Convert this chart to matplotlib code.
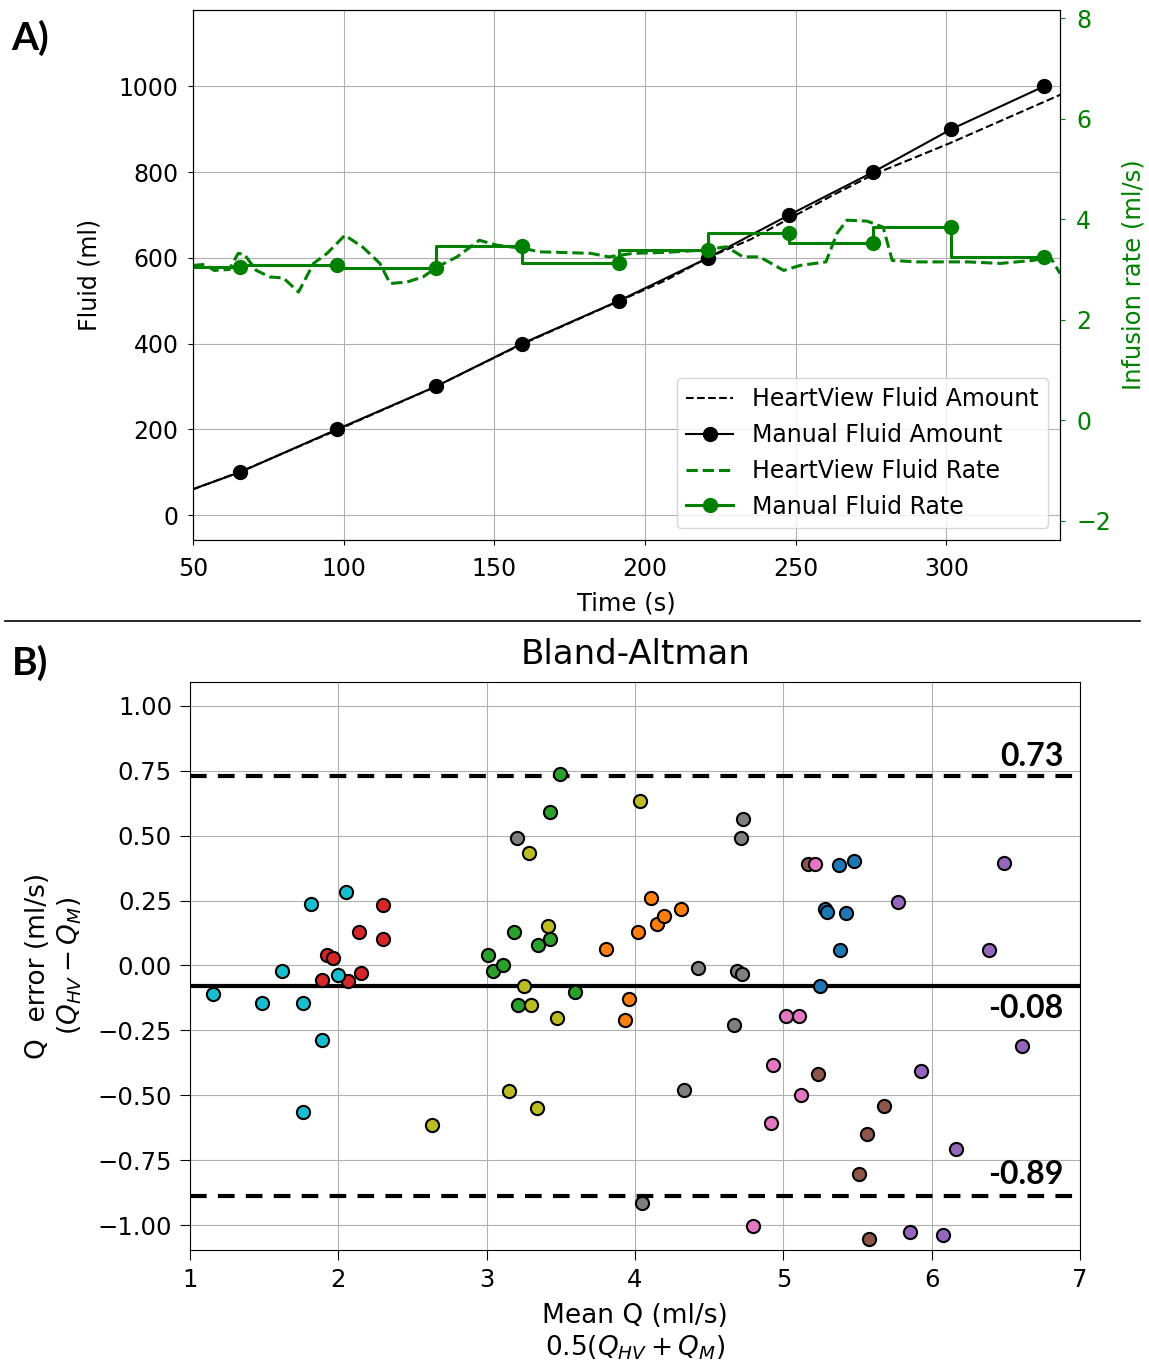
import numpy as np
import matplotlib
matplotlib.use('Agg')
import matplotlib.pyplot as plt
from matplotlib.lines import Line2D
from matplotlib.transforms import blended_transform_factory

# ---------------- panel A data ----------------
man_t = [26, 65.6, 97.8, 130.6, 159.2, 191.4, 220.9, 247.8, 275.7, 301.6, 332.4]
man_fluid = [0, 100, 200, 300, 400, 500, 600, 700, 800, 900, 1000]
man_rate = [3.05, 3.05, 3.08, 3.03, 3.46, 3.12, 3.38, 3.72, 3.52, 3.84, 3.24]

hv_amt_t = [50, 65.6, 97.7, 130, 159, 191, 207, 221, 235, 248, 262, 276, 301, 338]
hv_amt = [60, 101, 198, 298, 398, 498, 548, 601, 643, 692, 745, 795, 867, 981]

hv_rate_t = [50, 54, 57, 62, 65, 67, 71, 75.6, 80, 85, 90, 94.5, 100.4, 106.4, 112,
             115.4, 121, 126.3, 131, 137.6, 145, 151, 159.5, 165, 171, 182, 188, 196,
             207, 218, 227, 232.5, 238, 246, 251.5, 260, 263.7, 267, 273.7, 279, 282,
             290, 307, 318, 328.8, 334.4, 337.7]
hv_rate = [3.08, 3.1, 2.98, 3.0, 3.32, 3.3, 2.98, 2.85, 2.83, 2.55, 3.12, 3.32, 3.68, 3.44, 3.12,
           2.72, 2.75, 2.85, 3.05, 3.25, 3.58, 3.48, 3.42, 3.35, 3.34, 3.32, 3.25, 3.32,
           3.34, 3.38, 3.45, 3.25, 3.25, 2.98, 3.08, 3.15, 3.72, 3.98, 3.96, 3.84, 3.18,
           3.15, 3.15, 3.12, 3.18, 3.25, 2.92]

# ---------------- panel B data ----------------
groups = ['tab:blue', 'tab:orange', 'tab:green', 'tab:red', 'tab:purple',
          'tab:brown', 'tab:pink', 'tab:gray', 'tab:olive', 'tab:cyan']
ba_x = {
    'tab:blue': [5.244, 5.282, 5.297, 5.372, 5.383, 5.424, 5.473],
    'tab:orange': [3.805, 3.933, 3.960, 4.023, 4.109, 4.147, 4.198, 4.311],
    'tab:green': [3.012, 3.045, 3.113, 3.185, 3.214, 3.349, 3.428, 3.428, 3.491, 3.592],
    'tab:red': [1.888, 1.921, 1.962, 2.068, 2.140, 2.153, 2.304, 2.304],
    'tab:purple': [5.776, 5.851, 5.929, 6.075, 6.165, 6.383, 6.484, 6.608],
    'tab:brown': [5.169, 5.232, 5.511, 5.563, 5.574, 5.675],
    'tab:pink': [4.792, 4.918, 4.929, 5.017, 5.107, 5.118, 5.214],
    'tab:gray': [3.203, 4.046, 4.327, 4.423, 4.664, 4.685, 4.716, 4.719, 4.727],
    'tab:olive': [2.634, 3.151, 3.248, 3.288, 3.299, 3.340, 3.412, 3.477, 4.034],
    'tab:cyan': [1.153, 1.483, 1.623, 1.760, 1.760, 1.814, 1.888, 2.0, 2.052],
}
ba_y = {
    'tab:blue': [-0.080, 0.216, 0.205, 0.385, 0.058, 0.203, 0.402],
    'tab:orange': [0.064, -0.211, -0.128, 0.130, 0.261, 0.158, 0.190, 0.216],
    'tab:green': [0.042, -0.023, 0.0, 0.128, -0.152, 0.077, 0.100, 0.591, 0.736, -0.103],
    'tab:red': [-0.058, 0.042, 0.030, -0.060, 0.128, -0.028, 0.231, 0.101],
    'tab:purple': [0.245, -1.026, -0.405, -1.040, -0.709, 0.058, 0.396, -0.311],
    'tab:brown': [0.389, -0.420, -0.802, -0.651, -1.053, -0.542],
    'tab:pink': [-1.005, -0.606, -0.384, -0.195, -0.195, -0.500, 0.389],
    'tab:gray': [0.492, -0.917, -0.478, -0.009, -0.231, -0.022, 0.489, -0.032, 0.563],
    'tab:olive': [-0.615, -0.484, -0.080, 0.432, -0.152, -0.548, 0.151, -0.204, 0.633],
    'tab:cyan': [-0.109, -0.144, -0.022, -0.144, -0.564, 0.238, -0.289, -0.035, 0.281],
}
mean_diff = -0.08
upper_loa = 0.73
lower_loa = -0.89

fig = plt.figure(figsize=(11.49, 13.68), dpi=100)

# ---------------- A) ----------------
ax1 = fig.add_axes([0.168, 0.6053, 0.7546, 0.3874])
ax2 = ax1.twinx()

l1, = ax1.plot(hv_amt_t, hv_amt, 'k--', lw=1.5, label='HeartView Fluid Amount')
l2, = ax1.plot(man_t, man_fluid, 'k-o', lw=1.5, ms=10, label='Manual Fluid Amount')
ax1.set_xlim(50, 337.7)
ax1.set_ylim(-58, 1178)
ax1.set_xticks([50, 100, 150, 200, 250, 300])
ax1.set_yticks([0, 200, 400, 600, 800, 1000])
ax1.grid(True)
ax1.tick_params(labelsize=17)
ax1.tick_params(axis='x', pad=9)
ax1.tick_params(axis='y', pad=7)
ax1.set_xlabel('Time (s)', fontsize=17.5, labelpad=7)
ax1.set_ylabel('Fluid (ml)', fontsize=17, labelpad=12)

l3, = ax2.plot(hv_rate_t, hv_rate, 'g--', lw=2.2, label='HeartView Fluid Rate')
l4, = ax2.plot(man_t, man_rate, 'g-o', lw=2.2, ms=10, drawstyle='steps-pre',
               label='Manual Fluid Rate')
ax2.set_ylim(-2.38, 8.16)
ax2.set_yticks([-2, 0, 2, 4, 6, 8])
ax2.tick_params(axis='y', colors='g', labelsize=17, pad=8)
ax2.set_ylabel('Infusion rate (ml/s)', color='g', fontsize=17.5, labelpad=8)
ax2.legend(handles=[l1, l2, l3, l4], loc='lower right', fontsize=17)

# ---------------- B) ----------------
ax3 = fig.add_axes([0.1654, 0.0863, 0.7746, 0.4152])
for g in groups:
    ax3.scatter(ba_x[g], ba_y[g], s=90, c=g, edgecolors='k', linewidths=1.5, zorder=3)
ax3.axhline(mean_diff, color='k', lw=3, zorder=2)
ax3.axhline(upper_loa, color='k', lw=3, ls=(0, (4, 2.7)), zorder=2)
ax3.axhline(lower_loa, color='k', lw=3, ls=(0, (4, 2.7)), zorder=2)
ax3.set_xlim(1, 7)
ax3.set_ylim(-1.096, 1.092)
ax3.set_yticks(np.arange(-1, 1.01, 0.25))
ax3.grid(True)
ax3.tick_params(labelsize=17.5, length=7, pad=6)
ax3.set_title('Bland-Altman', fontsize=24.5, pad=13)
ax3.set_xlabel('Mean Q (ml/s)\n$0.5(Q_{HV} + Q_M)$', fontsize=19, labelpad=8)
ax3.set_ylabel('Q  error (ml/s)\n$(Q_{HV} - Q_M)$', fontsize=19, labelpad=10)

tr = blended_transform_factory(ax3.transAxes, ax3.transData)
ax3.text(0.981, upper_loa + 0.02, '%.2f' % upper_loa, transform=tr, ha='right', va='bottom',
         fontsize=23, fontweight='bold', family='Lato')
ax3.text(0.981, mean_diff - 0.03, '%.2f' % mean_diff, transform=tr, ha='right', va='top',
         fontsize=23, fontweight='bold', family='Lato')
ax3.text(0.981, lower_loa + 0.03, '%.2f' % lower_loa, transform=tr, ha='right', va='bottom',
         fontsize=23, fontweight='bold', family='Lato')

# panel labels and separator
fig.text(0.01, 0.972, 'A)', fontsize=28, fontweight='bold', family='Lato', va='center')
fig.text(0.01, 0.5154, 'B)', fontsize=28, fontweight='bold', family='Lato', va='center')
fig.add_artist(Line2D([0.004, 0.992], [1 - 621 / 1368] * 2, color='k', lw=1.2))

fig.savefig('out.png', dpi=100)
